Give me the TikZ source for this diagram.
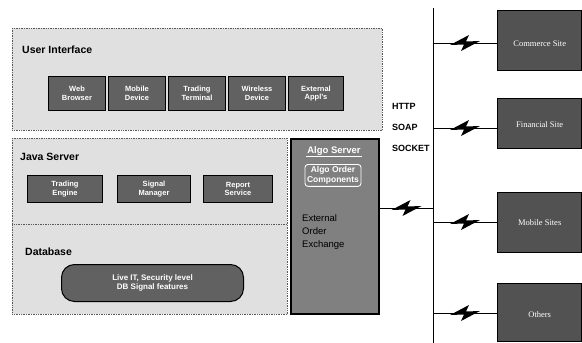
\documentclass[tikz,border=0pt]{standalone}
\usepackage{fontspec}
\setmainfont{Liberation Serif}
\setsansfont{Liberation Sans}
\usetikzlibrary{calc}
\begin{document}
\begin{tikzpicture}[x=1pt,y=-1pt,
  panel/.style={draw=black!65, densely dotted, line width=0.7pt, fill=black!12, anchor=north west, inner sep=0pt},
  paneltitle/.style={anchor=west, font=\sffamily\bfseries\fontsize{10.5}{12}\selectfont, inner sep=0pt},
  btn/.style={draw=black, line width=1pt, fill=black!62, text=white, align=center,
    font=\sffamily\bfseries\fontsize{7.5}{8.5}\selectfont, inner sep=1pt, anchor=north west},
  site/.style={draw=black, line width=1.4pt, fill=black!68, text=white, anchor=north west, inner sep=1pt},
  sitetext/.style={text=white, font=\fontsize{8.5}{10}\selectfont},
  proto/.style={anchor=west, font=\sffamily\bfseries\fontsize{9}{10}\selectfont, inner sep=0pt},
  conn/.style={draw=black, line width=0.7pt},
  bolt/.pic={\fill[black] (-15,2) -- (4,-8) -- (1,-1.5) -- (15,-2) -- (-4,8) -- (-1,1.5) -- cycle;}
]
\useasboundingbox (0,0) rectangle (582,343);

% panels
\node[panel, minimum width=370pt, minimum height=102pt] (ui) at (12,28) {};
\node[panel, minimum width=275pt, minimum height=86pt] (java) at (12,138) {};
\node[panel, minimum width=275pt, minimum height=90pt] (db) at (12,224) {};

\node[paneltitle] (uit) at (22,50) {User Interface};
\node[paneltitle] (jst) at (20,157) {Java Server};
\node[paneltitle] (dbt) at (25,252) {Database};

% UI buttons
\node[btn, minimum width=57pt, minimum height=34pt] (b1) at (48,76) {Web\\Browser};
\node[btn, minimum width=57pt, minimum height=34pt] (b2) at (108,76) {Mobile\\Device};
\node[btn, minimum width=57pt, minimum height=34pt] (b3) at (168,76) {Trading\\Terminal};
\node[btn, minimum width=57pt, minimum height=34pt] (b4) at (228,76) {Wireless\\Device};
\node[btn, minimum width=55pt, minimum height=34pt] (b5) at (288,76) {External\\Appl's};

% Java buttons
\node[btn, minimum width=75pt, minimum height=27pt] (j1) at (27,175) {Trading\\Engine};
\node[btn, minimum width=73pt, minimum height=27pt] (j2) at (117,175) {Signal\\Manager};
\node[btn, minimum width=69pt, minimum height=27pt] (j3) at (203,175) {Report\\Service};

% Database
\node[draw=black, line width=1pt, fill=black!62, text=white, rounded corners=13pt,
  minimum width=182pt, minimum height=37pt, anchor=north west, align=center,
  font=\sffamily\bfseries\fontsize{8}{9.5}\selectfont] (dbn) at (61,264)
  {Live IT, Security level\\DB Signal features};

% Algo server
\node[draw=black, line width=2pt, fill=black!50, anchor=north west,
  minimum width=88pt, minimum height=175pt, inner sep=0pt] (algo) at (290,138) {};
\node[anchor=north, text=white, font=\sffamily\bfseries\fontsize{9.5}{11}\selectfont, inner sep=1pt] (algot) at (334,145) {Algo Server};
\draw[white, line width=1pt] (algot.south west) -- (algot.south east);
\node[draw=white, line width=0.9pt, rounded corners=3pt, text=white, align=center,
  font=\sffamily\bfseries\fontsize{8.5}{10}\selectfont, inner sep=2pt, anchor=north] (algoc) at (333,164)
  {Algo Order\\Components};
\node[anchor=north west, align=left, text=black, font=\sffamily\fontsize{9.5}{13}\selectfont, inner sep=0pt] (algoe) at (302,214)
  {External\\Order\\Exchange};

% protocol labels
\node[proto] (http) at (392,106) {HTTP};
\node[proto] (soap) at (392,127) {SOAP};
\node[proto] (sock) at (392,148) {SOCKET};

% vertical line
\coordinate (vt) at (433,8);
\coordinate (vb) at (433,343);
\draw[conn] (vt) -- (vb);

% sites
\node[site, minimum width=84pt, minimum height=60pt] (s1) at (497,10) {};
\node[site, minimum width=84pt, minimum height=50pt] (s2) at (497,98) {};
\node[site, minimum width=84pt, minimum height=60pt] (s3) at (497,192) {};
\node[site, minimum width=84pt, minimum height=58pt] (s4) at (497,283) {};
\node[sitetext] (s1t) at ($(s1.center)+(0,3)$) {Commerce Site};
\node[sitetext] (s2t) at ($(s2.center)+(0,1)$) {Financial Site};
\node[sitetext] (s3t) at ($(s3.center)+(0,0)$) {Mobile Sites};
\node[sitetext] (s4t) at ($(s4.center)+(0,2)$) {Others};

% connectors with bolts
\coordinate (p1) at (433,43);
\coordinate (p2) at (433,128);
\coordinate (p3) at (433,222);
\coordinate (p4) at (433,313);
\coordinate (p0) at (433,208);
\coordinate (a0) at (algo.east |- p0);

\draw[conn] (p1) -- (s1.west |- p1);
\path ($(p1)!0.5!(s1.west |- p1)$) pic{bolt};
\draw[conn] (p2) -- (s2.west |- p2);
\path ($(p2)!0.5!(s2.west |- p2)$) pic{bolt};
\draw[conn] (p3) -- (s3.west |- p3);
\path ($(p3)!0.5!(s3.west |- p3)$) pic{bolt};
\draw[conn] (p4) -- (s4.west |- p4);
\path ($(p4)!0.5!(s4.west |- p4)$) pic{bolt};
\draw[conn] (a0) -- (p0);
\path ($(a0)!0.5!(p0)$) pic{bolt};
\end{tikzpicture}
\end{document}
